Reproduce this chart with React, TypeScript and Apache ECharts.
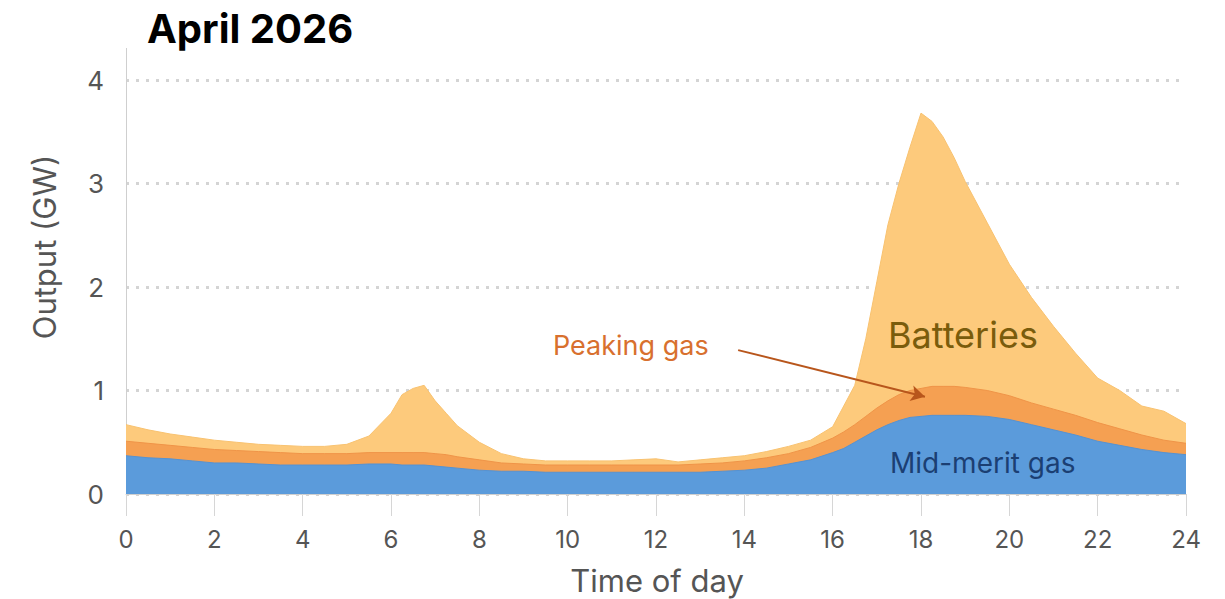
import React, { useEffect, useRef } from "react";
import * as echarts from "echarts";

// Time of day (hours)
const hours = [
  0, 0.5, 1, 1.5, 2, 2.5, 3, 3.5, 4, 4.5, 5, 5.5, 6,
  6.25, 6.5, 6.75, 7, 7.25, 7.5,
  8, 8.5, 9, 9.5, 10, 10.5, 11, 11.5, 12, 12.5, 13, 13.5, 14, 14.5, 15, 15.5, 16,
  16.25, 16.5, 16.75, 17, 17.25, 17.5, 17.75, 18, 18.25, 18.5, 18.75, 19,
  19.5, 20, 20.5, 21, 21.5, 22, 22.5, 23, 23.5, 24,
];

// Mid-merit gas output (GW)
const midMeritGas = [
  0.37, 0.35, 0.34, 0.32, 0.3, 0.3, 0.29, 0.28, 0.28, 0.28, 0.28, 0.29, 0.29,
  0.28, 0.28, 0.28, 0.27, 0.26, 0.25,
  0.23, 0.22, 0.22, 0.21, 0.21, 0.21, 0.21, 0.21, 0.21, 0.21, 0.21, 0.22, 0.23, 0.25, 0.29, 0.33, 0.4,
  0.44, 0.5, 0.56, 0.62, 0.67, 0.71, 0.74, 0.75, 0.76, 0.76, 0.76, 0.76,
  0.75, 0.72, 0.67, 0.62, 0.57, 0.51, 0.47, 0.43, 0.4, 0.38,
];

// Mid-merit gas + peaking gas (cumulative, GW)
const withPeakingGas = [
  0.51, 0.49, 0.47, 0.45, 0.43, 0.42, 0.41, 0.4, 0.39, 0.39, 0.39, 0.4, 0.4,
  0.4, 0.4, 0.4, 0.39, 0.38, 0.36,
  0.33, 0.3, 0.29, 0.28, 0.28, 0.28, 0.28, 0.28, 0.28, 0.28, 0.29, 0.3, 0.32, 0.35, 0.39, 0.45, 0.54,
  0.6, 0.67, 0.75, 0.83, 0.9, 0.96, 1.0, 1.02, 1.04, 1.04, 1.04, 1.03,
  1.0, 0.95, 0.88, 0.82, 0.76, 0.69, 0.63, 0.57, 0.52, 0.49,
];

// Mid-merit gas + peaking gas + batteries (cumulative, GW)
const withBatteries = [
  0.67, 0.62, 0.58, 0.55, 0.52, 0.5, 0.48, 0.47, 0.46, 0.46, 0.48, 0.56, 0.78,
  0.96, 1.02, 1.05, 0.9, 0.78, 0.66,
  0.5, 0.39, 0.34, 0.32, 0.32, 0.32, 0.32, 0.33, 0.34, 0.31, 0.33, 0.35, 0.37, 0.41, 0.46, 0.52, 0.65,
  0.85, 1.05, 1.5, 2.05, 2.6, 3.0, 3.35, 3.68, 3.6, 3.45, 3.25, 3.02,
  2.62, 2.22, 1.9, 1.62, 1.36, 1.12, 1.0, 0.85, 0.8, 0.68,
];

const xTicks = [0, 2, 4, 6, 8, 10, 12, 14, 16, 18, 20, 22, 24];
const yTicks = [0, 1, 2, 3, 4];

const FONT = "Inter, 'Noto Sans', sans-serif";

export default function App() {
  const ref = useRef<HTMLDivElement>(null);

  useEffect(() => {
    document.body.style.margin = "0";
    if (!ref.current) return;
    const chart = echarts.init(ref.current, undefined, { renderer: "svg" });

    const pts = (arr: number[]) => hours.map((h, i) => [h, arr[i]]);

    const area = (name: string, arr: number[], fill: string, edge: string, z: number) => ({
      name,
      type: "line",
      data: pts(arr),
      showSymbol: false,
      symbol: "none",
      z,
      lineStyle: { color: edge, width: 1 },
      areaStyle: { color: fill, opacity: 1 },
      emphasis: { disabled: true },
    });

    chart.setOption({
      animation: false,
      grid: { left: 126, right: 39, top: 80, bottom: 105 },
      xAxis: {
        type: "value",
        min: xTicks[0],
        max: xTicks[xTicks.length - 1],
        interval: 2,
        axisLine: { show: true, lineStyle: { color: "#cfcfcf", width: 1 } },
        axisTick: { show: true, length: 22, lineStyle: { color: "#d6d6d6", width: 1 } },
        axisLabel: { color: "#555", fontSize: 24, fontFamily: FONT, margin: 33 },
        splitLine: { show: false },
      },
      yAxis: {
        type: "value",
        min: yTicks[0],
        max: yTicks[yTicks.length - 1],
        interval: 1,
        axisLine: { show: true, lineStyle: { color: "#cfcfcf", width: 1 } },
        axisTick: { show: false },
        axisLabel: { color: "#555", fontSize: 26, fontFamily: FONT, margin: 22 },
        splitLine: {
          show: true,
          lineStyle: { color: "#d4d4d4", width: 3, type: [3, 7] },
        },
      },
      series: [
        area("Batteries", withBatteries, "#fdca7c", "#f8c270", 2),
        area("Peaking gas", withPeakingGas, "#f5a052", "#ef9448", 3),
        {
          ...area("Mid-merit gas", midMeritGas, "#5b9bdb", "#5592d2", 4),
          markLine: {
            silent: true,
            symbol: ["none", "arrow"],
            symbolSize: [12, 14],
            label: { show: false },
            lineStyle: { color: "#b8561c", width: 2, type: "solid" },
            data: [[{ coord: [13.86, 1.39] }, { coord: [18.09, 0.94] }]],
          },
        },
      ],
      graphic: [
        {
          type: "line",
          shape: { x1: 126.5, y1: 48, x2: 126.5, y2: 80 },
          style: { stroke: "#cfcfcf", lineWidth: 1 },
          silent: true,
        },
        {
          type: "text",
          x: 147,
          y: 28,
          style: {
            text: "April 2026",
            font: `bold 40px ${FONT}`,
            fill: "#000",
            textVerticalAlign: "middle",
          },
        },
        {
          type: "text",
          x: 44,
          y: 247,
          rotation: Math.PI / 2,
          style: {
            text: "Output (GW)",
            font: `31px ${FONT}`,
            fill: "#555",
            textAlign: "center",
            textVerticalAlign: "middle",
          },
        },
        {
          type: "text",
          x: 657,
          y: 580,
          style: {
            text: "Time of day",
            font: `31px ${FONT}`,
            fill: "#555",
            textAlign: "center",
            textVerticalAlign: "middle",
          },
        },
        {
          type: "text",
          x: 888,
          y: 335,
          z: 10,
          style: {
            text: "Batteries",
            font: `36px ${FONT}`,
            fill: "#7a5c0c",
            textVerticalAlign: "middle",
          },
        },
        {
          type: "text",
          x: 553,
          y: 345,
          z: 10,
          style: {
            text: "Peaking gas",
            font: `27px ${FONT}`,
            fill: "#d8702e",
            textVerticalAlign: "middle",
          },
        },
        {
          type: "text",
          x: 890,
          y: 463,
          z: 10,
          style: {
            text: "Mid-merit gas",
            font: `28px ${FONT}`,
            fill: "#1b3f73",
            textVerticalAlign: "middle",
          },
        },
      ],
    });

    return () => chart.dispose();
  }, []);

  return <div ref={ref} style={{ width: 1225, height: 599 }} />;
}
